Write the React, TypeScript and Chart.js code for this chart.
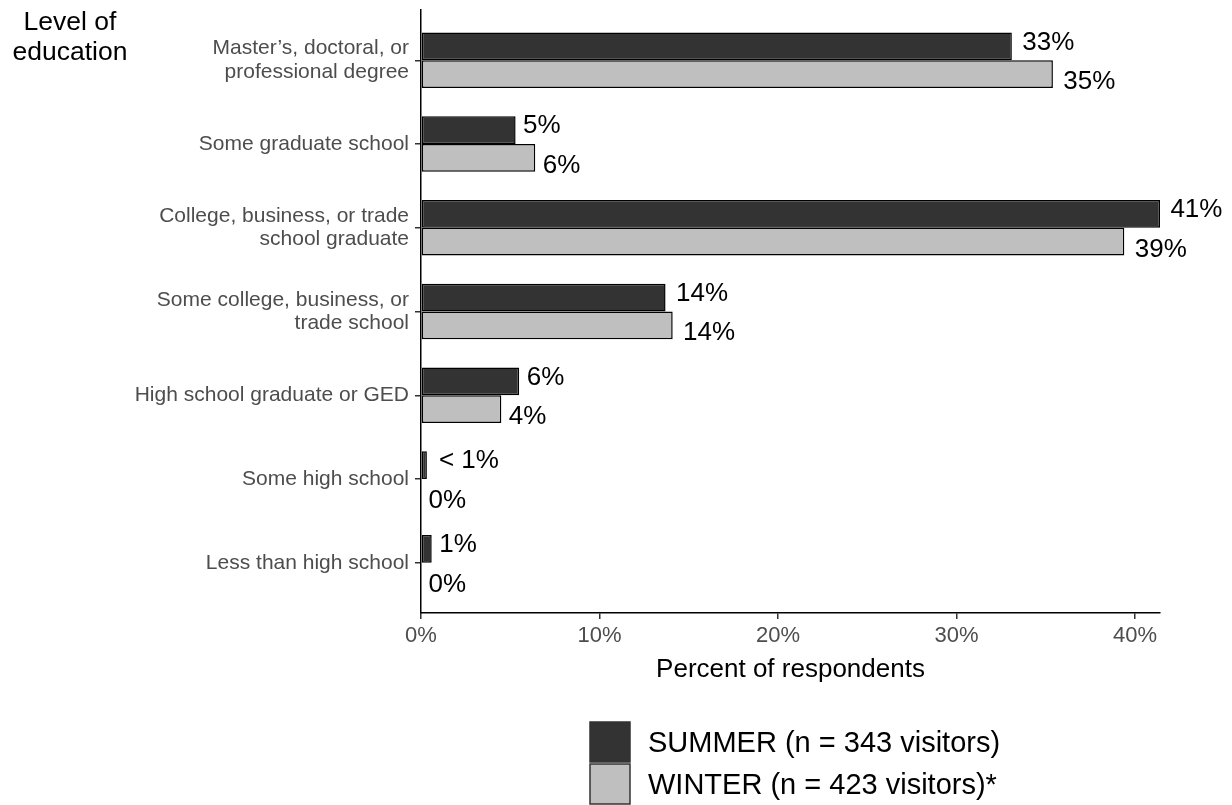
import React, { useEffect, useRef } from "react";
import { Chart, registerables } from "chart.js";

Chart.register(...registerables);

const categories: string[][] = [
  ["Master’s, doctoral, or", "professional degree"],
  ["Some graduate school"],
  ["College, business, or trade", "school graduate"],
  ["Some college, business, or", "trade school"],
  ["High school graduate or GED"],
  ["Some high school"],
  ["Less than high school"],
];
const summerValues = [33.1, 5.3, 41.4, 13.7, 5.5, 0.33, 0.6];
const winterValues = [35.4, 6.4, 39.4, 14.1, 4.5, 0, 0];
const summerLabels = ["33%", "5%", "41%", "14%", "6%", "< 1%", "1%"];
const winterLabels = ["35%", "6%", "39%", "14%", "4%", "0%", "0%"];
const seriesNames = ["SUMMER (n = 343 visitors)", "WINTER (n = 423 visitors)*"];
const xTickValues = [0, 10, 20, 30, 40];
const xTitle = "Percent of respondents";
const yTitle = ["Level of", "education"];

const FONT = '"Liberation Sans", Arial, sans-serif';
const SUMMER_COLOR = "#333333";
const WINTER_COLOR = "#bfbfbf";

export default function App() {
  const ref = useRef<HTMLCanvasElement>(null);

  useEffect(() => {
    if (!ref.current) return;
    const allLabels = [summerLabels, winterLabels];

    const decor = {
      id: "decor",
      afterDatasetsDraw(chart: any) {
        const ctx = chart.ctx;
        ctx.save();
        ctx.font = `26px ${FONT}`;
        ctx.fillStyle = "#000000";
        ctx.textBaseline = "middle";
        ctx.textAlign = "left";
        chart.data.datasets.forEach((_ds: any, di: number) => {
          const meta = chart.getDatasetMeta(di);
          meta.data.forEach((bar: any, i: number) => {
            const t = allLabels[di][i];
            const w = ctx.measureText(t).width;
            ctx.fillText(t, bar.x + 0.2 * w, bar.y + (di === 0 ? -4 : 8));
          });
        });
        ctx.restore();
      },
      afterDraw(chart: any) {
        const ctx = chart.ctx;
        ctx.save();
        // y axis title
        ctx.font = `26.5px ${FONT}`;
        ctx.fillStyle = "#000000";
        ctx.textAlign = "center";
        ctx.textBaseline = "alphabetic";
        ctx.fillText(yTitle[0], 70, 30);
        ctx.fillText(yTitle[1], 70, 60);
        // legend
        const colors = [SUMMER_COLOR, WINTER_COLOR];
        ctx.font = `29px ${FONT}`;
        ctx.textAlign = "left";
        ctx.textBaseline = "middle";
        seriesNames.forEach((name, i) => {
          const y = 722 + i * 42;
          ctx.fillStyle = colors[i];
          ctx.fillRect(590, y, 40, 40);
          ctx.strokeStyle = "#333333";
          ctx.lineWidth = 1.5;
          ctx.strokeRect(590, y, 40, 40);
          ctx.fillStyle = "#000000";
          ctx.fillText(name, 648, y + 22);
        });
        ctx.restore();
      },
    };

    const xMax = Math.max(...summerValues, ...winterValues);

    const chart = new Chart(ref.current, {
      type: "bar",
      data: {
        datasets: [
          {
            label: seriesNames[0],
            data: summerValues.map((v, i) => ({ x: v, y: i })),
            backgroundColor: SUMMER_COLOR,
            borderColor: "#000000",
            borderWidth: 1.5,
            borderSkipped: false,
          },
          {
            label: seriesNames[1],
            data: winterValues.map((v, i) => ({ x: v, y: i })),
            backgroundColor: WINTER_COLOR,
            borderColor: "#000000",
            borderWidth: 1.5,
            borderSkipped: false,
          },
        ] as any,
      },
      options: {
        indexAxis: "y",
        animation: false,
        responsive: true,
        maintainAspectRatio: false,
        layout: { padding: { left: 0, top: 10, right: 72, bottom: 117 } },
        datasets: { bar: { categoryPercentage: 0.66, barPercentage: 1 } },
        plugins: { legend: { display: false }, tooltip: { enabled: false } },
        scales: {
          x: {
            type: "linear",
            min: 0,
            max: xMax,
            offset: false,
            ticks: {
              includeBounds: false,
              color: "#4d4d4d",
              font: { family: FONT, size: 22 },
              padding: 4,
              callback: (v: any) => v + "%",
            },
            afterBuildTicks: (s: any) => {
              s.ticks = xTickValues.map((v) => ({ value: v }));
            },
            afterFit: (s: any) => {
              s.height = 75;
              s.paddingLeft = 0;
              s.paddingRight = 0;
            },
            grid: {
              offset: false,
              drawOnChartArea: false,
              drawTicks: true,
              tickLength: 6,
              color: "#333333",
              lineWidth: 1.5,
            },
            border: { display: true, color: "#000000", width: 1.5 },
            title: {
              display: true,
              text: xTitle,
              color: "#000000",
              font: { family: FONT, size: 26 },
              padding: { top: 0, bottom: 3 },
            },
          },
          y: {
            type: "linear",
            reverse: true,
            offset: false,
            min: -0.6,
            max: categories.length - 0.4,
            afterBuildTicks: (s: any) => {
              s.ticks = categories.map((_c, i) => ({ value: i }));
            },
            afterFit: (s: any) => {
              s.width = 421;
              s.paddingTop = 0;
              s.paddingBottom = 0;
            },
            ticks: {
              color: "#4d4d4d",
              font: { family: FONT, size: 21, lineHeight: 1.1 },
              padding: 6,
              callback: (v: any) => categories[v] ?? "",
            },
            grid: {
              offset: false,
              drawOnChartArea: false,
              drawTicks: true,
              tickLength: 6,
              color: "#333333",
              lineWidth: 1.5,
            },
            border: { display: true, color: "#000000", width: 1.5 },
          },
        },
      } as any,
      plugins: [decor],
    });
    return () => chart.destroy();
  }, []);

  return (
    <div style={{ position: "fixed", left: 0, top: 0, width: 1232, height: 805, background: "#ffffff" }}>
      <canvas ref={ref} />
    </div>
  );
}
